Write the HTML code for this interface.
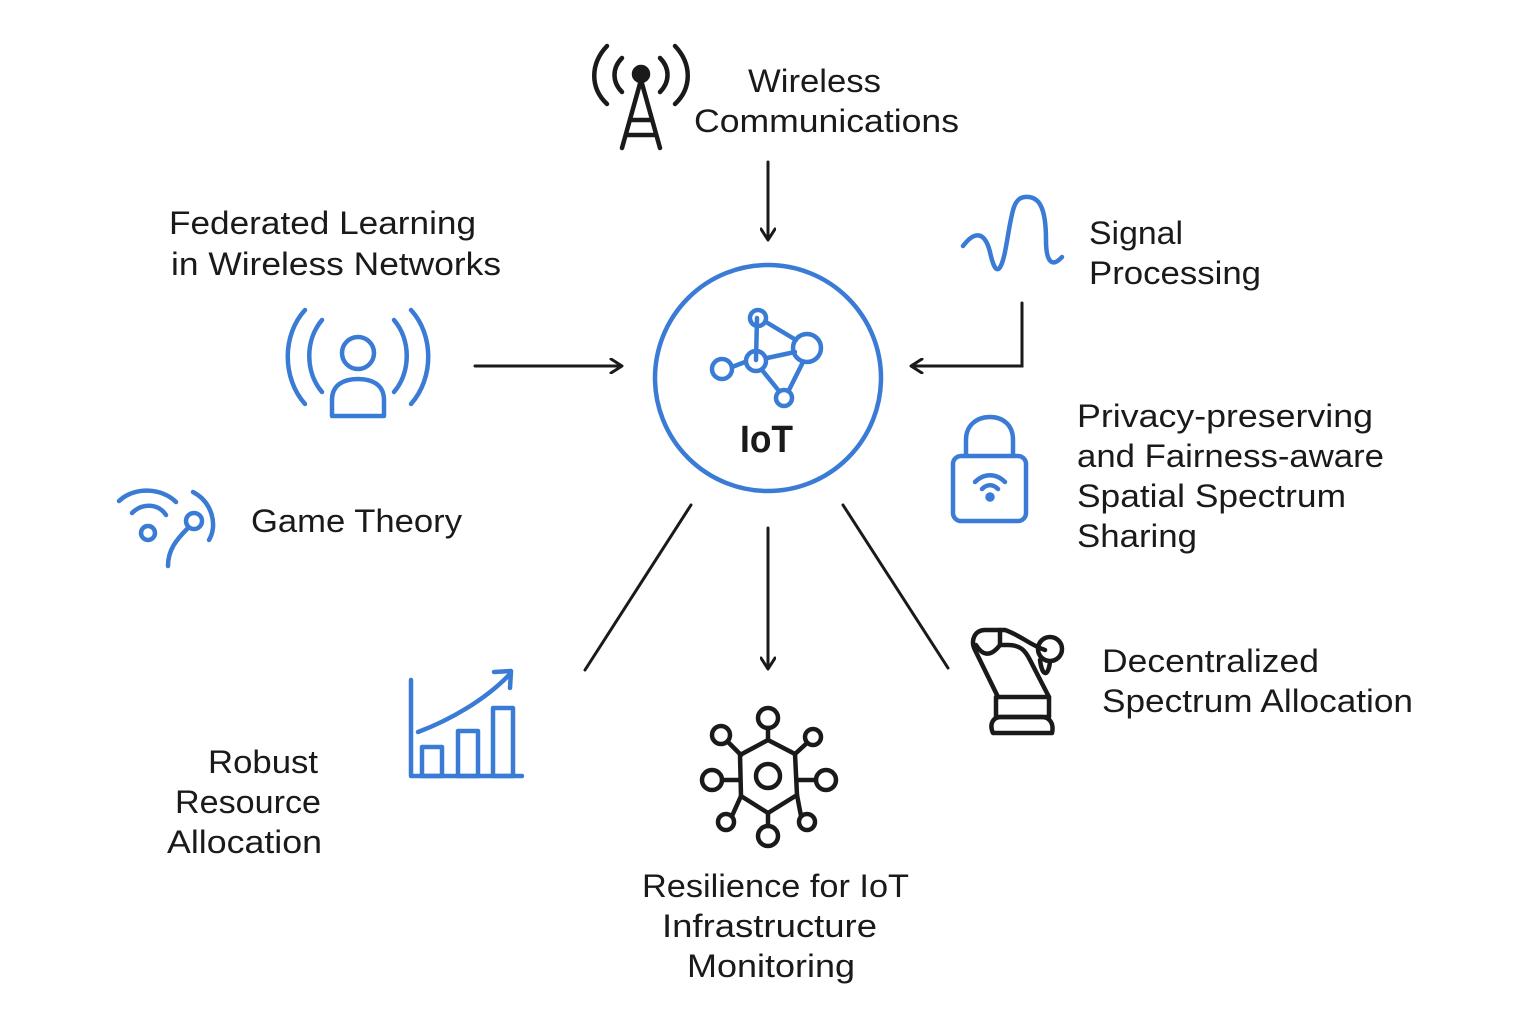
<!DOCTYPE html>
<html><head><meta charset="utf-8"><style>
html,body{margin:0;padding:0;background:#fff;}
svg{display:block}
text{font-family:"Liberation Sans",sans-serif;font-size:32px;fill:#1a1a1a;}
</style></head><body>
<svg width="1536" height="1024" viewBox="0 0 1536 1024" xmlns="http://www.w3.org/2000/svg">
<defs>
<marker id="ah" markerWidth="16" markerHeight="16" refX="12" refY="8" orient="auto" markerUnits="userSpaceOnUse">
<path d="M2,1 L13,8 L2,15" fill="none" stroke="#1a1a1a" stroke-width="3" stroke-linecap="round" stroke-linejoin="round"/>
</marker>
</defs>
<g fill="none" stroke="#3a7bd5" stroke-width="4.5" stroke-linecap="round" stroke-linejoin="round">
<circle cx="768" cy="378" r="113"/>
<line x1="757" y1="318" x2="756" y2="360"/>
<line x1="766" y1="322" x2="796" y2="340"/>
<line x1="767" y1="358" x2="795" y2="352"/>
<line x1="762" y1="370" x2="779" y2="391"/>
<line x1="803" y1="362" x2="789" y2="390"/>
<line x1="732" y1="367" x2="745" y2="362"/>
<circle cx="758" cy="318" r="8"/>
<circle cx="756" cy="361" r="10"/>
<circle cx="807" cy="348" r="14"/>
<circle cx="722" cy="369" r="10"/>
<circle cx="784" cy="398" r="8"/>
<path d="M963,246 C975,230 985,232 990,252 C995,275 1000,275 1005,252 C1012,215 1012,198 1025,197 C1038,196 1046,205 1046,240 C1046,262 1052,268 1062,257"/>
<circle cx="358" cy="353" r="16"/>
<path d="M332,416 L332,400 C332,386 342,379 358,379 C374,379 384,386 384,400 L384,416 Z"/>
<path d="M322,320 C305,340 305,372 322,392"/>
<path d="M394,320 C411,340 411,372 394,392"/>
<path d="M305,310 C282,335 282,378 305,404"/>
<path d="M411,310 C434,335 434,378 411,404"/>
<circle cx="148" cy="533" r="7"/>
<path d="M132,513 C142,503 158,503 166,515"/>
<path d="M119,501 C135,486 162,488 176,502"/>
<circle cx="194" cy="521" r="8"/>
<path d="M188,528 C176,540 168,550 168,566"/>
<path d="M193,492 C212,502 218,525 209,540"/>
<rect x="953" y="456" width="73" height="65" rx="8"/>
<path d="M966,456 L966,440 C966,425 977,417 990,417 C1003,417 1013,425 1013,440 L1013,456"/>
<circle cx="990" cy="497" r="2.5" fill="#3a7bd5"/>
<path d="M982,489 C987,484 993,484 998,489"/>
<path d="M975,482 C984,473 996,473 1005,482"/>
<path d="M411,680 L411,776 L522,776"/>
<rect x="422" y="747" width="20" height="29"/>
<rect x="458" y="731" width="20" height="45"/>
<rect x="493" y="708" width="20" height="68"/>
<path d="M418,732 C450,720 485,700 510,674"/>
<path d="M494,672 L511,671 L510,688"/>
</g>
<g fill="none" stroke="#1a1a1a" stroke-width="4.5" stroke-linecap="round" stroke-linejoin="round">
<circle cx="641" cy="74" r="7" fill="#1a1a1a"/>
<path d="M641,80 L622,148 M641,80 L660,148 M630,120 L652,120 M626,135 L656,135"/>
<path d="M622,58 C612,68 612,82 622,92"/>
<path d="M660,58 C670,68 670,82 660,92"/>
<path d="M607,46 C590,64 590,88 607,104"/>
<path d="M675,46 C692,64 692,88 675,104"/>
<path d="M768,740 L795,754 L797,795 L768,813 L741,796 L740,755 Z"/>
<circle cx="768" cy="776" r="12"/>
<circle cx="768" cy="718" r="10"/><line x1="768" y1="728" x2="768" y2="740"/>
<circle cx="768" cy="836" r="10"/><line x1="768" y1="813" x2="768" y2="826"/>
<circle cx="712" cy="780" r="10"/><line x1="722" y1="780" x2="740" y2="780"/>
<circle cx="826" cy="780" r="10"/><line x1="797" y1="780" x2="816" y2="780"/>
<circle cx="721" cy="735" r="9"/><line x1="728" y1="742" x2="741" y2="755"/>
<circle cx="813" cy="737" r="8"/><line x1="807" y1="743" x2="795" y2="754"/>
<circle cx="726" cy="822" r="8"/><line x1="732" y1="816" x2="741" y2="796"/>
<circle cx="807" cy="822" r="8"/><line x1="801" y1="816" x2="797" y2="795"/>
<path d="M993,733 L1052,733 C1054,724 1050,717 1042,717 L1001,717 C993,717 989,724 993,733 Z"/>
<rect x="996" y="697" width="53" height="20"/>
<path d="M998,697 L975,650 C970,640 975,630 985,630 L1005,630 C1020,635 1030,645 1045,650"/>
<path d="M1049,697 L1030,660 C1025,650 1020,645 1008,645 L1000,645"/>
<path d="M1000,630 L1000,645"/>
<path d="M976,645 C982,655 990,658 1000,645"/>
<circle cx="1050" cy="649" r="12"/>
<path d="M1040,660 C1042,676 1048,678 1050,662"/>
</g>
<g stroke="#1a1a1a" stroke-width="3" fill="none" stroke-linecap="round">
<line x1="768" y1="162" x2="768" y2="239" marker-end="url(#ah)"/>
<line x1="475" y1="366" x2="621" y2="366" marker-end="url(#ah)"/>
<path d="M1022,303 L1022,366 L912,366" marker-end="url(#ah)"/>
<line x1="768" y1="528" x2="768" y2="668" marker-end="url(#ah)"/>
<line x1="691" y1="505" x2="585" y2="670"/>
<line x1="843" y1="505" x2="948" y2="668"/>
</g>
<g>
<text x="748" y="92" textLength="133" lengthAdjust="spacingAndGlyphs">Wireless</text>
<text x="694" y="132" textLength="265" lengthAdjust="spacingAndGlyphs">Communications</text>
<text x="169" y="234" textLength="307" lengthAdjust="spacingAndGlyphs">Federated Learning</text>
<text x="171" y="275" textLength="330" lengthAdjust="spacingAndGlyphs">in Wireless Networks</text>
<text x="1089" y="244" textLength="94" lengthAdjust="spacingAndGlyphs">Signal</text>
<text x="1089" y="284" textLength="172" lengthAdjust="spacingAndGlyphs">Processing</text>
<text x="251" y="532" textLength="211" lengthAdjust="spacingAndGlyphs">Game Theory</text>
<text x="1077" y="427" textLength="296" lengthAdjust="spacingAndGlyphs">Privacy-preserving</text>
<text x="1077" y="467" textLength="307" lengthAdjust="spacingAndGlyphs">and Fairness-aware</text>
<text x="1077" y="507" textLength="269" lengthAdjust="spacingAndGlyphs">Spatial Spectrum</text>
<text x="1077" y="547" textLength="120" lengthAdjust="spacingAndGlyphs">Sharing</text>
<text x="1102" y="672" textLength="217" lengthAdjust="spacingAndGlyphs">Decentralized</text>
<text x="1102" y="712" textLength="311" lengthAdjust="spacingAndGlyphs">Spectrum Allocation</text>
<text x="208" y="773" textLength="110" lengthAdjust="spacingAndGlyphs">Robust</text>
<text x="175" y="813" textLength="146" lengthAdjust="spacingAndGlyphs">Resource</text>
<text x="167" y="853" textLength="155" lengthAdjust="spacingAndGlyphs">Allocation</text>
<text x="642" y="897" textLength="267" lengthAdjust="spacingAndGlyphs">Resilience for IoT</text>
<text x="662" y="937" textLength="215" lengthAdjust="spacingAndGlyphs">Infrastructure</text>
<text x="687" y="977" textLength="168" lengthAdjust="spacingAndGlyphs">Monitoring</text>
<text x="740" y="452" textLength="53" lengthAdjust="spacingAndGlyphs" style="font-size:38px;font-weight:bold">IoT</text>
</g>
</svg>
</body></html>
